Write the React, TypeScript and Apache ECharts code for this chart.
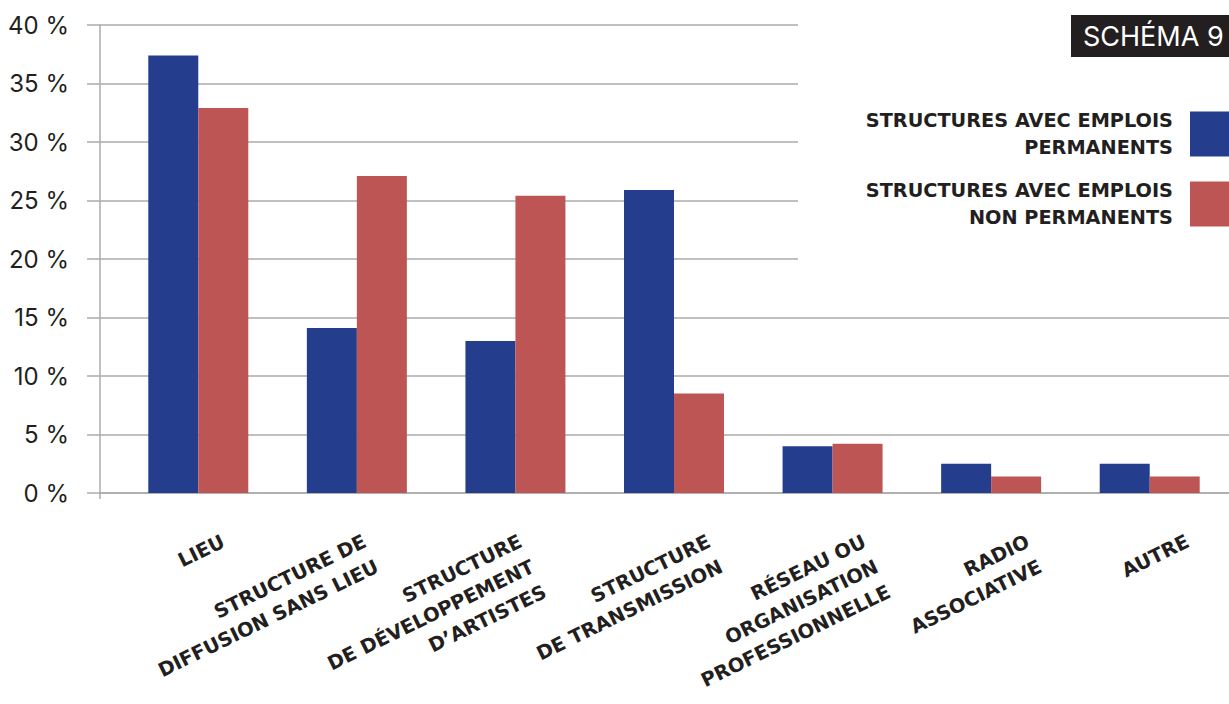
import React, { useEffect, useRef } from 'react';
import * as echarts from 'echarts';

const categories = [
  'LIEU',
  'STRUCTURE DE\nDIFFUSION SANS LIEU',
  'STRUCTURE\nDE DÉVELOPPEMENT\nD’ARTISTES',
  'STRUCTURE\nDE TRANSMISSION',
  'RÉSEAU OU\nORGANISATION\nPROFESSIONNELLE',
  'RADIO\nASSOCIATIVE',
  'AUTRE',
];
const permanent = [37.4, 14.1, 13.0, 25.9, 4.0, 2.5, 2.5];
const nonPermanent = [32.9, 27.1, 25.4, 8.5, 4.2, 1.4, 1.4];
const seriesNames = ['STRUCTURES AVEC EMPLOIS PERMANENTS', 'STRUCTURES AVEC EMPLOIS NON PERMANENTS'];
const legendLabels = ['STRUCTURES AVEC EMPLOIS\nPERMANENTS', 'STRUCTURES AVEC EMPLOIS\nNON PERMANENTS'];
const yMin = 0;
const yMax = 40;
const yStep = 5;
const titleText = 'SCHÉMA 9';

// layout: horizontal nudge (px) of each rotated category label from its band centre
const labelNudgePx = [19, 2, -1, 29, 26, 31, 32];

const FONT = 'Inter';
const BOLD_FONT = 'DejaVu Sans';
const TEXT = '#231f20';
const GRID = '#ababab';
const BLUE = '#243e8d';
const RED = '#bc5554';
const PLOT_LEFT = 119;
const PLOT_WIDTH = 1113;

export default function App() {
  const ref = useRef<HTMLDivElement>(null);
  useEffect(() => {
    if (!ref.current) return;
    const chart = echarts.init(ref.current, undefined, { renderer: 'svg' });
    const line = { color: GRID, width: 1.5 };
    const band = PLOT_WIDTH / categories.length;
    const labelValues = categories.map((_, i) => i + labelNudgePx[i] / band);
    chart.setOption({
      animation: false,
      backgroundColor: '#ffffff',
      textStyle: { fontFamily: FONT },
      title: {
        text: titleText,
        left: 1071,
        top: 15,
        backgroundColor: TEXT,
        padding: [7, 30, 7, 12],
        z: 10,
        textStyle: { color: '#ffffff', fontSize: 27, fontWeight: 'normal', fontFamily: FONT, lineHeight: 28 },
      },
      legend: {
        orient: 'vertical',
        right: -16,
        top: 102,
        align: 'right',
        icon: 'rect',
        itemWidth: 50,
        itemHeight: 45,
        itemGap: 16,
        data: seriesNames,
        formatter: (name: string) => legendLabels[seriesNames.indexOf(name)],
        textStyle: { fontSize: 19.3, fontWeight: 'bold', color: TEXT, lineHeight: 27, fontFamily: BOLD_FONT, padding: [0, 12, 0, 0] },
      },
      graphic: [
        { type: 'rect', left: 798, top: 0, z: 3, shape: { width: 431, height: 290 }, style: { fill: '#ffffff' } },
      ],
      grid: [
        { left: 100, right: 0, top: 25, bottom: 211 },
        { left: PLOT_LEFT, width: PLOT_WIDTH, top: 25, bottom: 211 },
        { left: PLOT_LEFT, width: PLOT_WIDTH, top: 25, bottom: 211 },
      ],
      xAxis: [
        {
          gridIndex: 0,
          type: 'value',
          min: 0,
          max: 1,
          interval: 1,
          axisLine: { show: true, lineStyle: line },
          axisTick: { show: true, length: 6, lineStyle: line, customValues: [0] },
          axisLabel: { show: false },
          splitLine: { show: false },
        },
        {
          gridIndex: 1,
          type: 'category',
          data: categories,
          axisLine: { show: false },
          axisTick: { show: false },
          axisLabel: { show: false },
        },
        {
          gridIndex: 2,
          type: 'value',
          min: -0.5,
          max: categories.length - 0.5,
          axisLine: { show: false },
          axisTick: { show: false },
          splitLine: { show: false },
          axisLabel: {
            customValues: labelValues,
            formatter: (v: number) => categories[Math.round(v)] ?? '',
            rotate: 26,
            align: 'right',
            verticalAlign: 'top',
            margin: 49,
            fontSize: 19.5,
            fontWeight: 'bold',
            color: TEXT,
            lineHeight: 28,
            fontFamily: BOLD_FONT,
            showMinLabel: true,
            showMaxLabel: true,
          },
        },
      ],
      yAxis: [
        {
          gridIndex: 0,
          type: 'value',
          min: yMin,
          max: yMax,
          interval: yStep,
          axisLine: { show: true, lineStyle: line },
          axisTick: { show: true, length: 13, lineStyle: line },
          splitLine: { show: true, lineStyle: line },
          axisLabel: { formatter: '{value} %', fontSize: 24, color: TEXT, margin: 31, fontFamily: FONT },
        },
        { gridIndex: 1, type: 'value', min: yMin, max: yMax, interval: yStep, show: false },
        { gridIndex: 2, type: 'value', min: yMin, max: yMax, interval: yStep, show: false },
      ],
      series: [
        {
          name: seriesNames[0],
          type: 'bar',
          xAxisIndex: 1,
          yAxisIndex: 1,
          data: permanent,
          barWidth: 50,
          barGap: '0%',
          itemStyle: { color: BLUE },
        },
        {
          name: seriesNames[1],
          type: 'bar',
          xAxisIndex: 1,
          yAxisIndex: 1,
          data: nonPermanent,
          barWidth: 50,
          barGap: '0%',
          itemStyle: { color: RED },
        },
      ],
    });
    return () => chart.dispose();
  }, []);
  return <div ref={ref} style={{ position: 'fixed', left: 0, top: 0, width: 1229, height: 704 }} />;
}
